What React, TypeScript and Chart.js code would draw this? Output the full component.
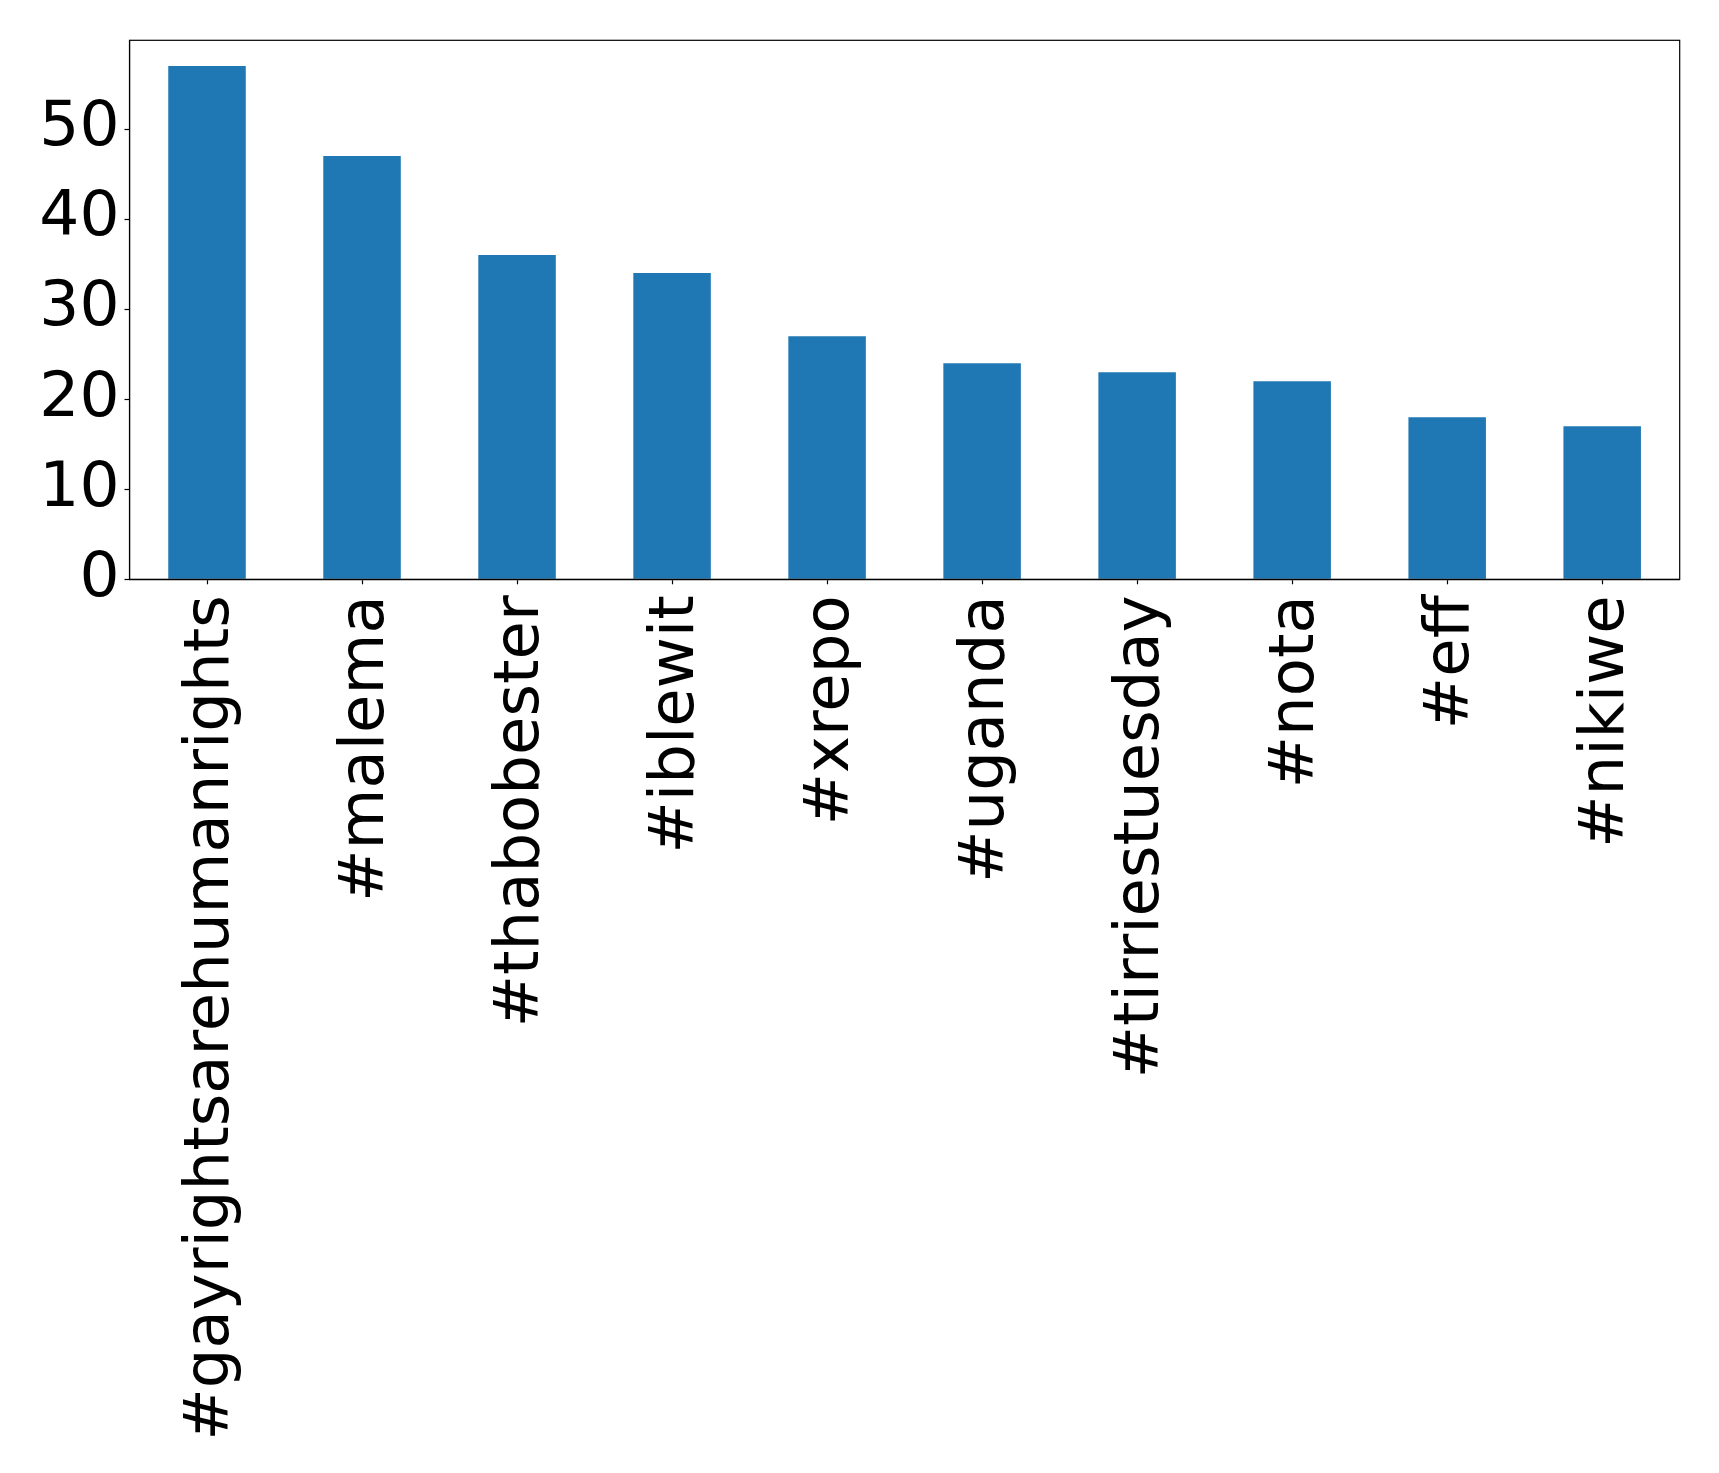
import React, { useEffect, useRef } from "react";
import { Chart, registerables } from "chart.js";

Chart.register(...registerables);

const categories = [
  "#gayrightsarehumanrights",
  "#malema",
  "#thabobester",
  "#iblewit",
  "#xrepo",
  "#uganda",
  "#tirriestuesday",
  "#nota",
  "#eff",
  "#nikiwe",
];
const counts = [57, 47, 36, 34, 27, 24, 23, 22, 18, 17];
const yTicks = [0, 10, 20, 30, 40, 50];

const W = 1719;
const H = 1473;
const FONT = "'DejaVu Sans', sans-serif";

const framePlugin = {
  id: "frame",
  afterDraw(chart: any) {
    const { ctx, chartArea } = chart;
    ctx.save();
    ctx.strokeStyle = "#000";
    ctx.lineWidth = 1.2;
    ctx.strokeRect(chartArea.left, chartArea.top, chartArea.right - chartArea.left, chartArea.bottom - chartArea.top);
    ctx.restore();
  },
};

export default function App() {
  const ref = useRef<HTMLCanvasElement>(null);
  useEffect(() => {
    const chart = new Chart(ref.current as HTMLCanvasElement, {
      type: "bar",
      data: {
        labels: categories,
        datasets: [
          {
            data: counts,
            backgroundColor: "#1f77b4",
            borderWidth: 0,
            barPercentage: 0.5,
            categoryPercentage: 1,
          },
        ],
      },
      options: {
        responsive: false,
        animation: false,
        devicePixelRatio: 1,
        layout: { padding: { top: 40.3, right: 39.3, left: 0, bottom: 0 } },
        plugins: { legend: { display: false }, tooltip: { enabled: false } },
        scales: {
          x: {
            offset: true,
            grid: {
              display: true,
              offset: false,
              drawOnChartArea: false,
              drawTicks: true,
              tickLength: 5,
              tickWidth: 1.2,
              tickColor: "#000",
            },
            border: { display: true, color: "#000", width: 1.2 },
            ticks: {
              autoSkip: false,
              minRotation: 90,
              maxRotation: 90,
              padding: 11,
              labelOffset: 5,
              color: "#000",
              font: { family: FONT, size: 62.5 },
            },
            afterFit(scale: any) {
              scale.height = H - 579.3;
              scale.paddingLeft = 0;
              scale.paddingRight = 0;
            },
          },
          y: {
            min: 0,
            max: 59.85,
            afterBuildTicks(scale: any) {
              scale.ticks = yTicks.map((v) => ({ value: v }));
            },
            grid: {
              display: true,
              drawOnChartArea: false,
              drawTicks: true,
              tickLength: 5,
              tickWidth: 1.2,
              tickColor: "#000",
            },
            border: { display: true, color: "#000", width: 1.2 },
            ticks: {
              padding: 5,
              color: "#000",
              font: { family: FONT, size: 63 },
            },
            afterFit(scale: any) {
              scale.width = 129.5;
              scale.paddingTop = 0;
              scale.paddingBottom = 0;
            },
          },
        },
      },
      plugins: [framePlugin],
    });
    return () => chart.destroy();
  }, []);
  return (
    <div style={{ position: "absolute", left: 0, top: 0, width: W, height: H, background: "#fff" }}>
      <canvas ref={ref} width={W} height={H} style={{ width: W, height: H, display: "block" }} />
    </div>
  );
}
